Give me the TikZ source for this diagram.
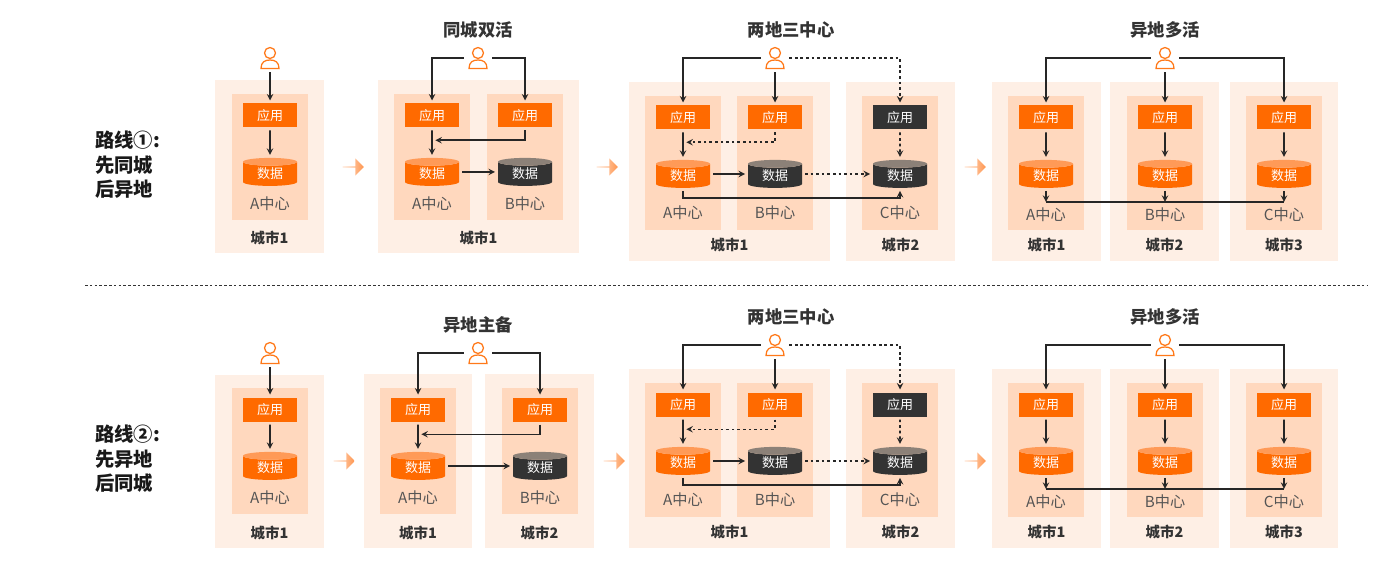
\documentclass[tikz,border=0pt]{standalone}
\usepackage{fontspec}
\setmainfont{Noto Sans CJK SC}
\usetikzlibrary{shapes.geometric}
\usetikzlibrary{shapes.arrows}
\usetikzlibrary{calc}

\definecolor{cityback}{HTML}{FEEFE5}
\definecolor{dcback}{HTML}{FFD8BE}
\definecolor{aliorange}{HTML}{FF6A00}
\definecolor{alitop}{HTML}{FF9A57}
\definecolor{darkbox}{HTML}{333333}
\definecolor{darktop}{HTML}{8C8178}
\definecolor{inktext}{HTML}{333333}
\definecolor{softtext}{HTML}{555555}

\tikzset{
  appon/.style={rectangle, fill=aliorange, text=white, minimum width=40.5pt, minimum height=18pt,
    inner sep=0pt, outer sep=2.25pt, font=\fontsize{9.75}{10}\selectfont},
  appoff/.style={appon, fill=darkbox},
  dbon/.style={cylinder, shape border rotate=90, aspect=0.3, minimum width=40.5pt, minimum height=21pt,
    inner sep=0pt, outer sep=2.25pt, text=white, font=\fontsize{9.75}{10}\selectfont,
    cylinder uses custom fill, cylinder end fill=alitop, cylinder body fill=aliorange},
  dboff/.style={dbon, cylinder end fill=darktop, cylinder body fill=darkbox},
  dclabel/.style={text=softtext, inner sep=0pt, font=\fontsize{11.4}{12}\selectfont},
  citylabel/.style={text=inktext, inner sep=0pt, font=\fontsize{10.8}{11}\selectfont\bfseries},
  titlelabel/.style={text=inktext, inner sep=0pt, font=\fontsize{13}{14}\selectfont\bfseries},
  usernode/.style={rectangle, minimum width=21pt, minimum height=21pt, inner sep=0pt},
  userline/.style={draw=aliorange!90!white, fill=white, line width=0.95pt},
  flow/.style={draw=black!85, line width=1.15pt, -stealth},
  flowline/.style={draw=black!85, line width=1.15pt},
  dotflow/.style={flow, dash pattern=on 2pt off 2.2pt},
  stage/.style={single arrow, single arrow head extend=3pt, single arrow head indent=0pt, minimum height=16pt, minimum width=13pt,
    inner sep=0pt, left color=alitop!25, middle color=alitop, right color=alitop!90!aliorange},
}

% one city block with its caption
\newcommand{\cityzone}[7]{%
  \fill[cityback] (#2,{#4}) rectangle (#3,{#5});
  \node[citylabel] (#1) at ({(#2+#3)/2},{#6}) {#7};
}
% one data center: app box, database, caption
\newcommand{\dczone}[8]{%
  \fill[dcback] ({#2-38},{#3}) rectangle ({#2+38},{#4});
  \node[#7] (#1app) at (#2,{#3+21.5}) {应用};
  \node[#8] (#1db) at (#2,{#3+80}) {\raisebox{-1.5pt}{数据}};
  \node[dclabel] (#1lab) at (#2,{#5}) {#6};
}
\newcommand{\usericon}[3]{%
  \node[usernode] (#1) at (#2,{#3}) {};
  \begin{scope}[shift={(#2,{#3})}]
    \draw[userline] (0,-5) circle (5.5);
    \draw[userline] (-9,10.5) .. controls (-9,4) and (-5,2) .. (0,2) .. controls (5,2) and (9,4) .. (9,10.5) -- cycle;
  \end{scope}
}
% two places, three centers
\newcommand{\twoplaces}[2]{%
  \node[titlelabel] (#1title) at (791,{30+#2}) {两地三中心};
  \cityzone{#1c1}{629}{830}{82+#2}{261+#2}{245+#2}{城市1}
  \cityzone{#1c2}{846}{955}{82+#2}{261+#2}{245+#2}{城市2}
  \dczone{#1A}{683}{96+#2}{230+#2}{213+#2}{A中心}{appon}{dbon}
  \dczone{#1B}{775}{96+#2}{230+#2}{213+#2}{B中心}{appon}{dboff}
  \dczone{#1C}{900}{96+#2}{230+#2}{213+#2}{C中心}{appoff}{dboff}
  \usericon{#1U}{775}{58+#2}
  \coordinate (#1j) at ([xshift=2.5pt]$(#1Aapp.south)!.4!(#1Adb.north)$);
  \draw[flow] (#1U.west) -| (#1Aapp.north);
  \draw[flow] (#1U.south) -- (#1Bapp.north);
  \draw[dotflow] (#1U.east) -| (#1Capp.north);
  \draw[flow] (#1Aapp) -- (#1Adb);
  \draw[dotflow] (#1Bapp.south) |- (#1j);
  \draw[dotflow] (#1Capp) -- (#1Cdb);
  \draw[flow] ([yshift=1.5pt]#1Adb.east) -- ([yshift=1.5pt]#1Bdb.west);
  \draw[dotflow] ([yshift=1.5pt]#1Bdb.east) -- ([yshift=1.5pt]#1Cdb.west);
  \draw[flow] (#1Adb.south) -- ++(0,7) -| (#1Cdb.south);
}
% three cities, all active
\newcommand{\threeplaces}[2]{%
  \node[titlelabel] (#1title) at (1165,{30+#2}) {异地多活};
  \cityzone{#1c1}{992}{1101}{82+#2}{261+#2}{245+#2}{城市1}
  \cityzone{#1c2}{1110}{1219}{82+#2}{261+#2}{245+#2}{城市2}
  \cityzone{#1c3}{1230}{1338}{82+#2}{261+#2}{245+#2}{城市3}
  \dczone{#1A}{1046}{96+#2}{230+#2}{215+#2}{A中心}{appon}{dbon}
  \dczone{#1B}{1165}{96+#2}{230+#2}{215+#2}{B中心}{appon}{dbon}
  \dczone{#1C}{1284}{96+#2}{230+#2}{215+#2}{C中心}{appon}{dbon}
  \usericon{#1U}{1165}{58+#2}
  \draw[flow] (#1U.west) -| (#1Aapp.north);
  \draw[flow] (#1U.south) -- (#1Bapp.north);
  \draw[flow] (#1U.east) -| (#1Capp.north);
  \draw[flow] (#1Aapp) -- (#1Adb);
  \draw[flow] (#1Bapp) -- (#1Bdb);
  \draw[flow] (#1Capp) -- (#1Cdb);
  \draw[flow] (#1Adb.south) -- ++(0,11) coordinate (#1busA);
  \draw[flow] (#1Bdb.south) -- ++(0,11) coordinate (#1busB);
  \draw[flow] (#1Cdb.south) -- ++(0,11) coordinate (#1busC);
  \draw[flowline] (#1busA) -- (#1busC);
}

\begin{document}
\begin{tikzpicture}[x=0.75pt, y=-0.75pt]
\useasboundingbox (0,0) rectangle (1400,570);

\node[anchor=west, align=left, text=black!90, inner sep=0pt, font=\fontsize{14.5}{18.4}\selectfont\bfseries] (route1) at (95,165) {路线①:\\先同城\\后异地};
\node[anchor=west, align=left, text=black!90, inner sep=0pt, font=\fontsize{14.5}{18.4}\selectfont\bfseries] (route2) at (95,459) {路线②:\\先异地\\后同城};

% first route
\cityzone{aone}{215}{324}{80}{253}{238}{城市1}
\dczone{aoneA}{270}{94}{220}{204}{A中心}{appon}{dbon}
\usericon{aoneU}{270}{58}
\draw[flow] (aoneU.south) -- (aoneAapp.north);
\draw[flow] (aoneAapp) -- (aoneAdb);

\node[titlelabel] (atitle) at (478,30) {同城双活};
\cityzone{atwo}{378}{579}{80}{253}{238}{城市1}
\dczone{atwoA}{432}{94}{220}{204}{A中心}{appon}{dbon}
\dczone{atwoB}{525}{94}{220}{204}{B中心}{appon}{dboff}
\usericon{atwoU}{478}{58}
\coordinate (atwoj) at ([xshift=2.5pt]$(atwoAapp.south)!.4!(atwoAdb.north)$);
\draw[flow] (atwoU.west) -| (atwoAapp.north);
\draw[flow] (atwoU.east) -| (atwoBapp.north);
\draw[flow] (atwoAapp) -- (atwoAdb);
\draw[flow] (atwoBapp.south) |- (atwoj);
\draw[flow] ([yshift=1.5pt]atwoAdb.east) -- ([yshift=1.5pt]atwoBdb.west);

\twoplaces{athree}{0}
\threeplaces{afour}{0}

\node[stage] (astep1) at (353,167) {};
\node[stage] (astep2) at (607,167) {};
\node[stage] (astep3) at (975,167) {};

\draw[black!80, line width=0.6pt, dash pattern=on 2pt off 1.6pt] (85,285) -- (1367,285);

% second route
\cityzone{bone}{215}{324}{375}{548}{533}{城市1}
\dczone{boneA}{270}{388}{514}{498}{A中心}{appon}{dbon}
\usericon{boneU}{270}{353}
\draw[flow] (boneU.south) -- (boneAapp.north);
\draw[flow] (boneAapp) -- (boneAdb);

\node[titlelabel] (btitle) at (478,325) {异地主备};
\cityzone{btwo}{364}{472}{374}{548}{533}{城市1}
\cityzone{btwob}{485}{594}{374}{548}{533}{城市2}
\dczone{btwoA}{418}{388}{514}{498}{A中心}{appon}{dbon}
\dczone{btwoB}{540}{388}{514}{498}{B中心}{appon}{dboff}
\usericon{btwoU}{478}{353}
\coordinate (btwoj) at ([xshift=2.5pt]$(btwoAapp.south)!.4!(btwoAdb.north)$);
\draw[flow] (btwoU.west) -| (btwoAapp.north);
\draw[flow] (btwoU.east) -| (btwoBapp.north);
\draw[flow] (btwoAapp) -- (btwoAdb);
\draw[flow] (btwoBapp.south) |- (btwoj);
\draw[flow] ([yshift=1.5pt]btwoAdb.east) -- ([yshift=1.5pt]btwoBdb.west);

\twoplaces{bthree}{287}
\threeplaces{bfour}{287}

\node[stage] (bstep1) at (344,461) {};
\node[stage] (bstep2) at (614,461) {};
\node[stage] (bstep3) at (975,461) {};
\end{tikzpicture}
\end{document}
